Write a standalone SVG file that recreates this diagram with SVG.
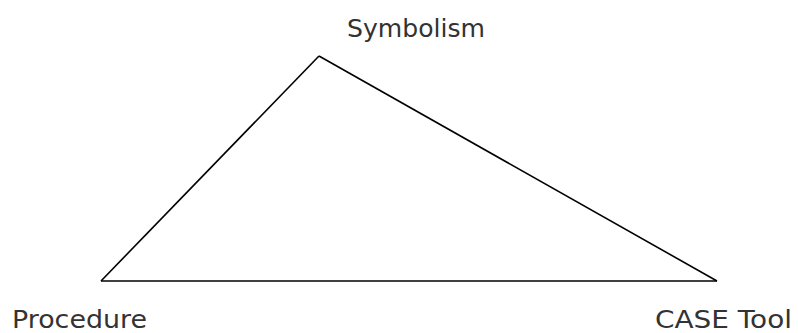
<svg xmlns="http://www.w3.org/2000/svg" width="798" height="333" viewBox="0 0 798 333">
<style>
.lbl{font-family:"DejaVu Sans","Verdana",sans-serif;font-size:25px;fill:#333}
.edge{stroke:#000;stroke-width:1.6;fill:none}
</style>
<rect width="798" height="333" fill="#fff"/>
<g id="connectors">
<line class="edge" x1="319" y1="56" x2="101" y2="281"/>
<line class="edge" x1="319" y1="56" x2="717" y2="281"/>
<line class="edge" x1="101" y1="281" x2="717" y2="281"/>
</g>
<g id="symbolism"><text class="lbl" x="347" y="37" textLength="138" lengthAdjust="spacingAndGlyphs">Symbolism</text></g>
<g id="procedure"><text class="lbl" x="12" y="328" textLength="135" lengthAdjust="spacingAndGlyphs">Procedure</text></g>
<g id="case-tool"><text class="lbl" x="655" y="328" textLength="137" lengthAdjust="spacingAndGlyphs">CASE Tool</text></g>
</svg>
